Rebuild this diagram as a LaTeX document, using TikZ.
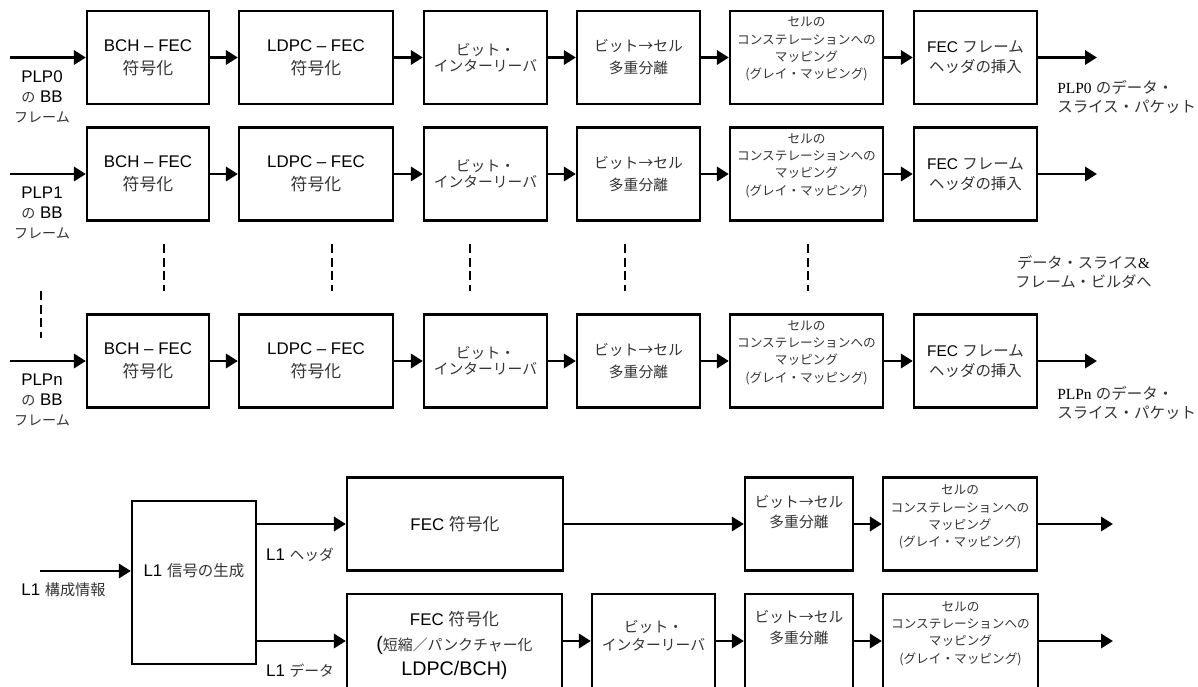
\documentclass[tikz,border=0pt]{standalone}
\usepackage{fontspec}
\setmainfont{Liberation Sans}
\newfontfamily\jpfont{Noto Sans CJK JP}
\newfontfamily\tmsfont{Liberation Serif}
\usetikzlibrary{arrows.meta}

\newcommand\ja[1]{{\jpfont\color{black!80}#1}}
\newcommand\fsz[2]{\fontsize{#1}{#2}\selectfont}

\begin{document}
\begin{tikzpicture}[x=0.025cm, y=-0.025cm,
  blk/.style={draw, line width=1.6pt, align=center, inner sep=0pt, minimum height=93*0.025cm},
  bw/.style={minimum width=#1*0.025cm},
  jtx/.style={text=black!80, align=center, inner sep=0pt},
  lbl/.style={align=center, inner sep=0pt, font=\fsz{12}{14.2}},
  arr/.style={line width=2.1pt, -{Triangle[length=8.5pt, width=10pt]}},
  dsh/.style={line width=1pt, dash pattern=on 6.4pt off 3.2pt}]
  \useasboundingbox (0,0) rectangle (1198,686);
  \clip (0,0) rectangle (1198,686);

  % three PLP chains
  \foreach \rw/\yy in {0/57.5, 1/174, n/361}{
    \coordinate (src\rw) at (10,\yy);
    \node[blk, bw=122, font=\fsz{12}{16.3}] (bch\rw) at (148,\yy) {BCH – FEC\\\ja{符号化}};
    \node[blk, bw=154, font=\fsz{12}{16.3}] (ldp\rw) at (316,\yy) {LDPC – FEC\\\ja{符号化}};
    \node[blk, bw=123, jtx, font=\jpfont\fsz{10.5}{11.5}] (ilv\rw) at (485.5,\yy) {ビット・\\インターリーバ};
    \node[blk, bw=123, jtx, font=\jpfont\fsz{10.5}{15.6}] (btc\rw) at (638.5,\yy) {ビット→セル\\多重分離};
    \node[blk, bw=153] (cst\rw) at (806.5,\yy) {};
    \node[jtx, font=\jpfont\fsz{9}{12.3}] (cstl\rw) at (806.5,\yy-8.5) {セルの\\コンステレーションへの\\マッピング\\(グレイ・マッピング)};
    \node[blk, bw=123, font=\fsz{11}{14.2}] (fch\rw) at (975.5,\yy) {FEC \ja{フレーム}\\\ja{ヘッダの挿入}};
    \coordinate (dst\rw) at (1097,\yy);
    \node[lbl] (plp\rw) at (42,\yy+39) {PLP\rw\\\ja{\fsz{10}{14.2}の} BB\\\ja{\fsz{10}{14.2}フレーム}};
    \draw[arr] (src\rw) -- (bch\rw);
    \draw[arr] (bch\rw) -- (ldp\rw);
    \draw[arr] (ldp\rw) -- (ilv\rw);
    \draw[arr] (ilv\rw) -- (btc\rw);
    \draw[arr] (btc\rw) -- (cst\rw);
    \draw[arr] (cst\rw) -- (fch\rw);
    \draw[arr] (fch\rw) -- (dst\rw);
  }
  \node[lbl, anchor=west, align=left, font=\fsz{11}{13.5}] (pkt0) at (1057,97) {{\tmsfont PLP0} \ja{のデータ・}\\\ja{スライス・パケット}};
  \node[lbl, anchor=west, align=left, font=\fsz{11}{14}] (pktn) at (1057,403) {{\tmsfont PLPn} \ja{のデータ・}\\\ja{スライス・パケット}};
  \node[lbl, font=\fsz{10.8}{13.5}] (bld) at (1083.5,272.5) {\ja{データ・スライス}{\tmsfont\&}\\\ja{フレーム・ビルダへ}};

  % dots between the chains
  \foreach \x in {164,332,470,625,808}
    \draw[dsh] (\x,244) -- (\x,291);
  \draw[dsh] (41,291) -- (41,338);

  % L1 signalling
  \node[blk, bw=124, minimum height=163*0.025cm] (gen) at (194,582.5) {};
  \node[lbl] (genl) at (194,571) {L1 \ja{\fsz{11}{14}信号の生成}};
  \coordinate (cfg) at (40,571);
  \draw[arr] (cfg) -- (cfg -| gen.west);
  \node[lbl] (cfgl) at (63.5,590) {L1 \ja{\fsz{10.8}{14}構成情報}};

  \node[blk, bw=216, font=\fsz{12}{16}] (fecH) at (455,524) {FEC \ja{符号化}};
  \node[blk, bw=108] (btcH) at (799,524) {};
  \node[jtx, font=\jpfont\fsz{10.5}{14.2}] (btcHl) at (799,512) {ビット→セル\\多重分離};
  \node[blk, bw=154] (cstH) at (960,524) {};
  \node[jtx, font=\jpfont\fsz{9}{12.3}] (cstHl) at (960,517) {セルの\\コンステレーションへの\\マッピング\\(グレイ・マッピング)};
  \coordinate (endH) at (1113,524);

  % lower boxes run past the bottom edge
  \coordinate (dy) at (0,641);
  \node[blk, bw=215, minimum height=110*0.025cm] (fecD) at (454.5,649) {};
  \node[lbl, font=\fsz{12}{17.8}] (fecDl) at (454.5,645) {FEC \ja{符号化}\\{\fsz{14}{17.8}(}\ja{\fsz{10.6}{17.8}短縮／パンクチャー化}\\{\fsz{14}{17.8}LDPC/BCH)}};
  \node[blk, bw=123, minimum height=110*0.025cm] (ilvD) at (653.5,649) {};
  \node[jtx, font=\jpfont\fsz{10.5}{12.8}] (ilvDl) at (653.5,636) {ビット・\\インターリーバ};
  \node[blk, bw=108, minimum height=110*0.025cm] (btcD) at (799,649) {};
  \node[jtx, font=\jpfont\fsz{10.5}{15}] (btcDl) at (799,627.5) {ビット→セル\\多重分離};
  \node[blk, bw=155, minimum height=110*0.025cm] (cstD) at (960.5,649) {};
  \node[jtx, font=\jpfont\fsz{9}{12.3}] (cstDl) at (960.5,633.5) {セルの\\コンステレーションへの\\マッピング\\(グレイ・マッピング)};
  \coordinate (endD) at (1113,641);

  \draw[arr] (gen.east |- fecH.west) -- (fecH.west);
  \node[lbl] (hdr) at (300,555) {L1 \ja{\fsz{10.5}{14}ヘッダ}};
  \draw[arr] (gen.east |- dy) -- (fecD.west |- dy);
  \node[lbl] (dat) at (300,671) {L1 \ja{\fsz{10.5}{14}データ}};
  \draw[arr] (fecH) -- (btcH);
  \draw[arr] (btcH) -- (cstH);
  \draw[arr] (cstH) -- (endH);
  \draw[arr] (fecD.east |- dy) -- (ilvD.west |- dy);
  \draw[arr] (ilvD.east |- dy) -- (btcD.west |- dy);
  \draw[arr] (btcD.east |- dy) -- (cstD.west |- dy);
  \draw[arr] (cstD.east |- dy) -- (endD);
\end{tikzpicture}
\end{document}
